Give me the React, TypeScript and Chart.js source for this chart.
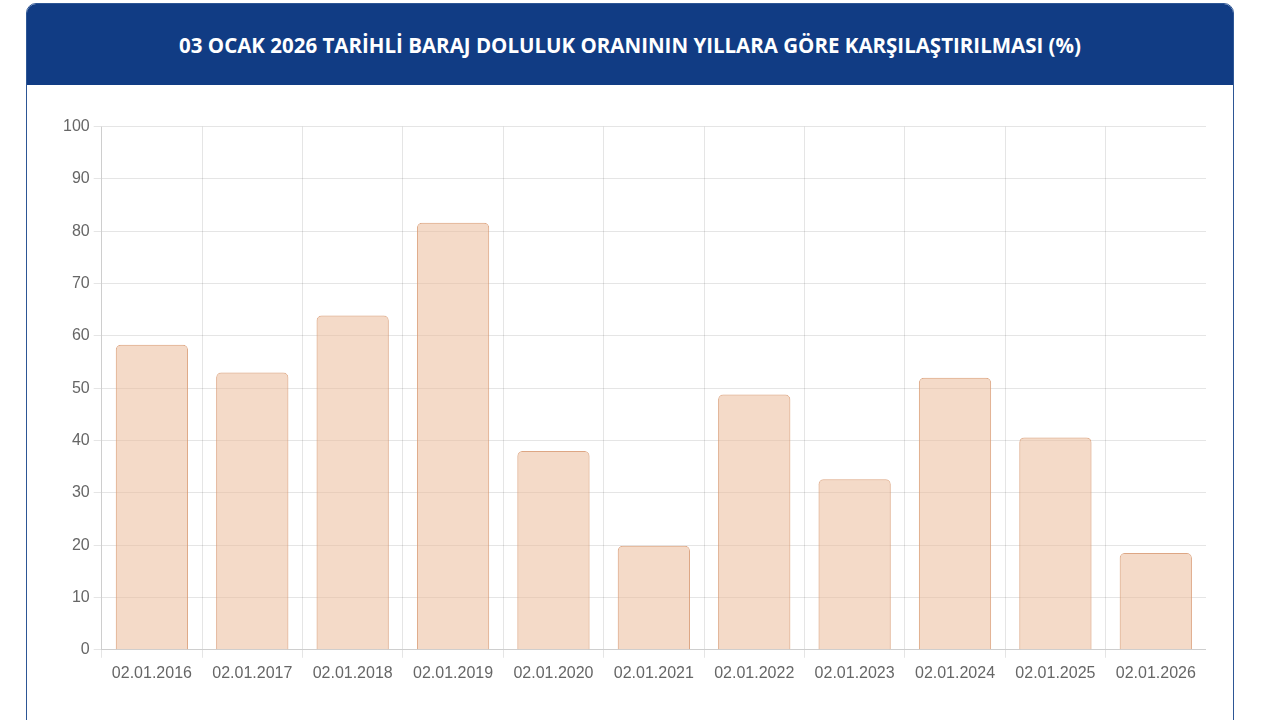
import React, { useEffect, useRef } from 'react';
import { Chart, registerables } from 'chart.js';

Chart.register(...registerables);

const dates = [
  '02.01.2016', '02.01.2017', '02.01.2018', '02.01.2019', '02.01.2020', '02.01.2021',
  '02.01.2022', '02.01.2023', '02.01.2024', '02.01.2025', '02.01.2026',
];
const fillRates = [58.3, 53.0, 63.9, 81.6, 38.0, 19.9, 48.8, 32.6, 52.0, 40.6, 18.5];

const TITLE = '03 OCAK 2026 TARİHLİ BARAJ DOLULUK ORANININ YILLARA GÖRE KARŞILAŞTIRILMASI (%)';

const BarajChart = () => {
  const chartRef = useRef<HTMLCanvasElement>(null);
  const chartInstance = useRef<Chart | null>(null);

  useEffect(() => {
    if (!chartRef.current) return;
    const ctx = chartRef.current.getContext('2d');
    if (!ctx) return;

    if (chartInstance.current) {
      chartInstance.current.destroy();
    }

    const tickFont = { family: '"Liberation Sans", Arial, sans-serif', size: 16 };

    chartInstance.current = new Chart(ctx, {
      type: 'bar',
      data: {
        labels: dates,
        datasets: [{
          label: 'Doluluk Oranı',
          data: fillRates,
          backgroundColor: 'rgba(234, 184, 150, 0.52)',
          borderColor: 'rgba(215, 150, 110, 0.85)',
          borderWidth: 1,
          borderRadius: 5,
        }]
      },
      options: {
        animation: false,
        responsive: true,
        maintainAspectRatio: false,
        plugins: {
          legend: { display: false },
          tooltip: { enabled: false },
        },
        scales: {
          x: {
            grid: {
              // hide the extra line at the right end
              color: (c: any) => (c.index === undefined ? 'transparent' : 'rgba(0,0,0,0.1)'),
            },
            ticks: { color: '#666', font: tickFont, padding: 6 },
          },
          y: {
            min: 0,
            max: 100,
            ticks: { stepSize: 10, color: '#666', font: tickFont, padding: 4 },
            grid: { color: 'rgba(0,0,0,0.1)' },
          }
        }
      }
    });

    return () => {
      if (chartInstance.current) {
        chartInstance.current.destroy();
        chartInstance.current = null;
      }
    };
  }, []);

  return (
    <div style={{ position: 'absolute', left: 32, top: 109, width: 1147, height: 576 }}>
      <canvas ref={chartRef} />
    </div>
  );
};

const App = () => {
  return (
    <div style={{ position: 'absolute', left: 0, top: 0, width: 1280, height: 720, overflow: 'hidden', background: '#fff' }}>
      <div
        style={{
          position: 'absolute',
          left: 26,
          top: 3,
          width: 1206,
          height: 780,
          border: '1px solid #2d5695',
          borderRadius: '10px 10px 0 0',
          overflow: 'hidden',
          background: '#fff',
        }}
      >
        <div
          style={{
            height: 81,
            background: '#113c84',
            color: '#fff',
            display: 'flex',
            alignItems: 'center',
            justifyContent: 'center',
            fontFamily: '"Open Sans", "Noto Sans", sans-serif',
            fontWeight: 700,
            fontSize: 20.5,
          }}
        >
          {TITLE}
        </div>
        <BarajChart />
      </div>
    </div>
  );
};

export default App;
